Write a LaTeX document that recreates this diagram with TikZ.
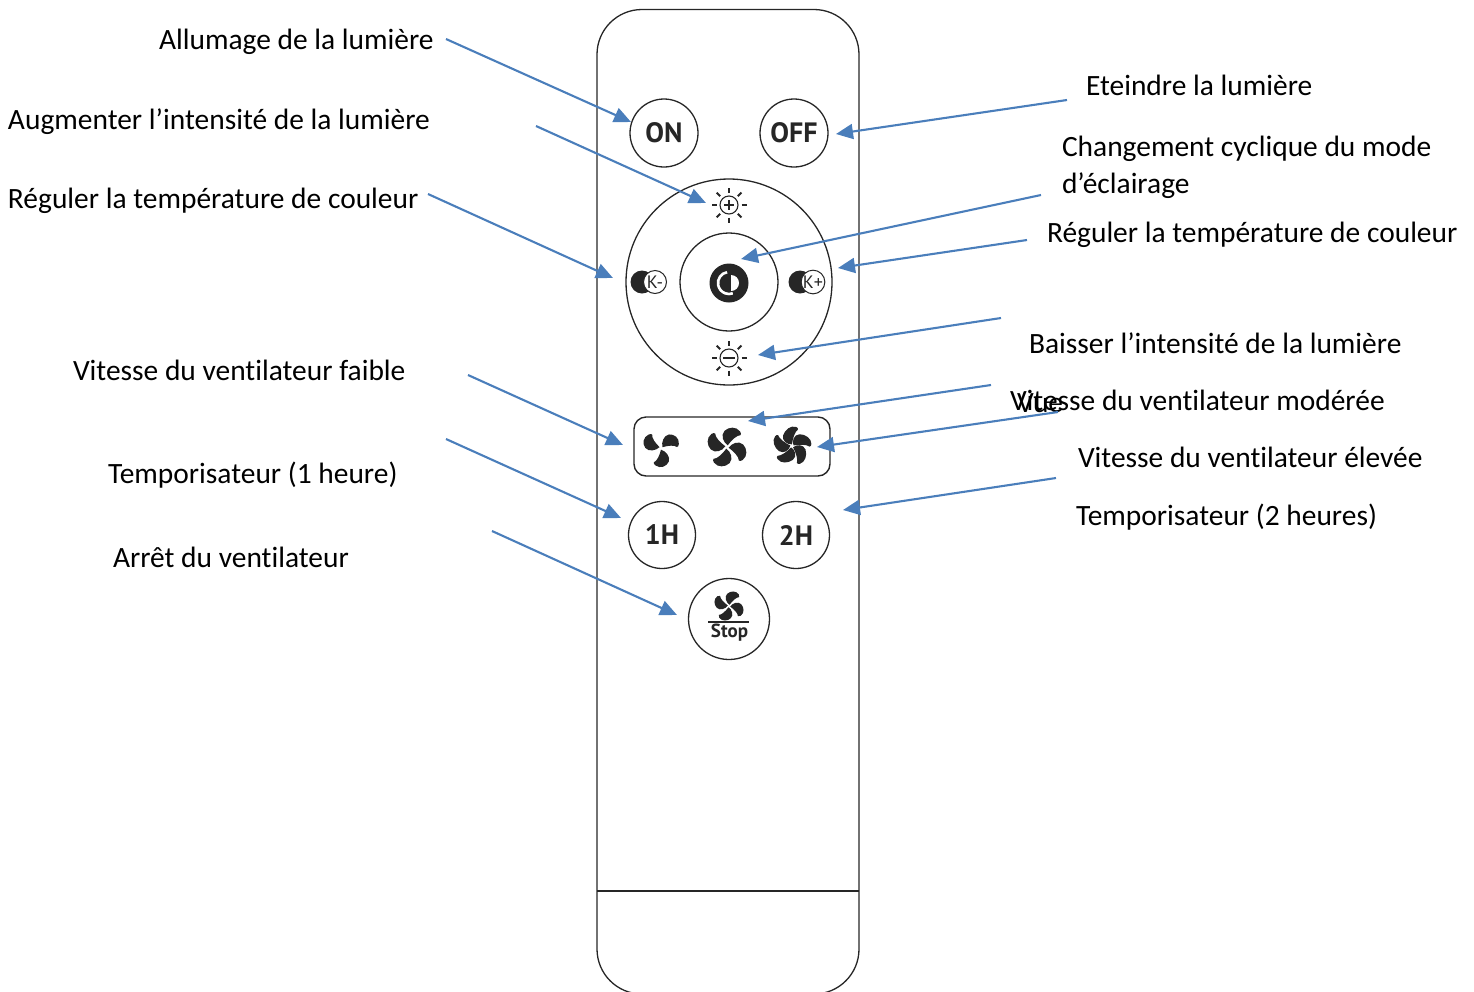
\documentclass[tikz,border=0pt]{standalone}
\usepackage{fontspec}
\setmainfont{Carlito}[RawFeature={-liga,-clig}]
\setsansfont{PT Sans}
\usetikzlibrary{arrows.meta,calc}
\definecolor{arrowblue}{HTML}{4A7EBB}
\definecolor{ink}{HTML}{262626}
\tikzset{
  x=1pt,y=-1pt,
  lab/.style={anchor=base west,inner sep=0pt,outer sep=0pt,font=\fontsize{29.45}{32}\selectfont,text=black},
  btn/.style={circle,draw=ink,line width=1.3pt,inner sep=0pt,outer sep=0pt,text=ink,font=\bfseries\sffamily\fontsize{28}{30}\selectfont},
  ptr/.style={draw=arrowblue,line width=2.1pt,-{Triangle[length=17pt,width=15pt,fill=arrowblue]}},
}
% x, y, radius, blades, start angle, blade width factor
\newcommand{\fanicon}[6]{%
  \foreach \k in {1,...,#4}{
    \fill[ink,shift={(#1,#2)},rotate=#5+360*\k/#4,scale=#3,rotate=-22,yscale=#6,rotate=22]
      (0.08,-0.04) .. controls (0.0,-0.3) and (0.13,-0.66) .. (0.42,-0.7)
      .. controls (0.72,-0.72) and (1.02,-0.5) .. (1.0,-0.18)
      .. controls (1.0,-0.08) and (0.95,-0.04) .. (0.9,-0.02)
      .. controls (0.75,-0.14) and (0.4,-0.12) .. cycle;
  }%
}
\newcommand{\sunicon}[3]{%
  \node[circle,draw=ink,line width=1.1pt,minimum size=18pt,inner sep=0pt] (#1) at (#2,#3) {};
  \foreach \a in {0,45,...,315}{
    \draw[ink,line width=1.9pt] ($(#2,#3)+(\a:12.5)$) -- ($(#2,#3)+(\a:17.5)$);
  }%
}
\begin{document}
\begin{tikzpicture}
\useasboundingbox (0,0) rectangle (1474,991);
\clip (0,0) rectangle (1474,991);
% body
\draw[ink,line width=1.3pt,rounded corners=45pt] (597,994) rectangle (859,9.5);
\draw[ink,line width=1.1pt] (597,891) -- (859,891);
% buttons
\node[btn,minimum size=68pt] (on) at (664,133) {ON};
\node[btn,minimum size=68pt] (off) at (794,133) {OFF};
\node[btn,minimum size=206pt] (ring) at (729,282) {};
\node[btn,minimum size=98pt] (mode) at (729,282) {};
\node[btn,minimum size=67pt] (oneh) at (662,535) {1H};
\node[btn,minimum size=67pt] (twoh) at (796,535) {2H};
\node[btn,minimum size=81pt] (stop) at (729,619) {};
\node[draw=ink,line width=1.4pt,rounded corners=12pt,minimum width=196pt,minimum height=59pt,inner sep=0pt] (fans) at (732,446.5) {};
% mode icon
\fill[ink] (729,283) circle (19.5);
\draw[white,line width=2.6pt] ($(729,283)+(-100:11)$) arc (-100:-290:11);
\fill[white] (731,275) arc (-90:90:8) -- cycle;
% sun icons
\sunicon{sunplus}{729}{205}
\draw[ink,line width=1.1pt] (724,205) -- (734,205) (729,200) -- (729,210);
\sunicon{sunminus}{729}{358}
\draw[ink,line width=1.1pt] (723,358) -- (735,358);
% K icons
\fill[ink] (642,282) circle (11.5);
\node[circle,draw=ink,fill=white,line width=1pt,minimum size=23pt,inner sep=0pt,font=\sffamily\fontsize{18}{18}\selectfont,text=ink] (kminus) at (655,282) {K-};
\fill[ink] (800,282) circle (11.5);
\node[circle,draw=ink,fill=white,line width=1pt,minimum size=23pt,inner sep=0pt,font=\sffamily\fontsize{18}{18}\selectfont,text=ink] (kplus) at (813,282) {K+};
% fans
\fanicon{661}{448}{17.5}{3}{0}{1.1}
\fanicon{727}{447}{20}{4}{40}{1}
\fanicon{792}{446}{20}{5}{0}{0.85}
\fanicon{729}{606}{15}{4}{40}{1}
\draw[ink,line width=1.5pt] (708,622) -- (749,622);
\node[inner sep=0pt,text=ink,font=\sffamily\fontsize{19}{19}\selectfont,anchor=base] (stoptxt) at (729.5,637) {\textbf{Stop}};
% labels
\node[lab] (l1) at (159,49.5) {Allumage de la lumière};
\node[lab] (l2) at (8,129.5) {Augmenter l’intensité de la lumière};
\node[lab] (l3) at (8,208.5) {Réguler la température de couleur};
\node[lab] (l4) at (73,380.5) {Vitesse du ventilateur faible};
\node[lab] (l5) at (108,483.5) {Temporisateur (1 heure)};
\node[lab] (l6) at (113,567.5) {Arrêt du ventilateur};
\node[lab] (r1) at (1086,95.5) {Eteindre la lumière};
\node[lab] (r2) at (1062,156.5) {Changement cyclique du mode};
\node[lab] (r2b) at (1062,193.5) {d’éclairage};
\node[lab] (r3) at (1047,242.5) {Réguler la température de couleur};
\node[lab] (r4) at (1029,353.5) {Baisser l’intensité de la lumière};
\node[lab] (r5) at (1010,410.5) {Vitesse du ventilateur modérée};
\node[lab] (r5b) at (1017,412) {Vue};
\node[lab] (r6) at (1078,467.5) {Vitesse du ventilateur élevée};
\node[lab] (r7) at (1076,525.5) {Temporisateur (2 heures)};
% connector ends
\foreach \n/\x/\y in {a1/446/39,b1/631/122,a2/536/126,b2/706/203,a3/428/194,b3/613/278,a4/468/375,b4/623/445,a5/446/439,b5/621/518,a6/492/531,b6/677/615,a7/1067/100,b7/836/134,a8/1041/195,b8/741/259,a9/1027/240,b9/838/268,a10/1001/318,b10/758/355,a11/991/385,b11/748/421,a12/1058/412,b12/817/447,a13/1056/478,b13/843/510}{
  \coordinate (\n) at (\x,\y);
}
\foreach \i in {1,...,13}{
  \draw[ptr] (a\i) -- (b\i);
}
\end{tikzpicture}
\end{document}
